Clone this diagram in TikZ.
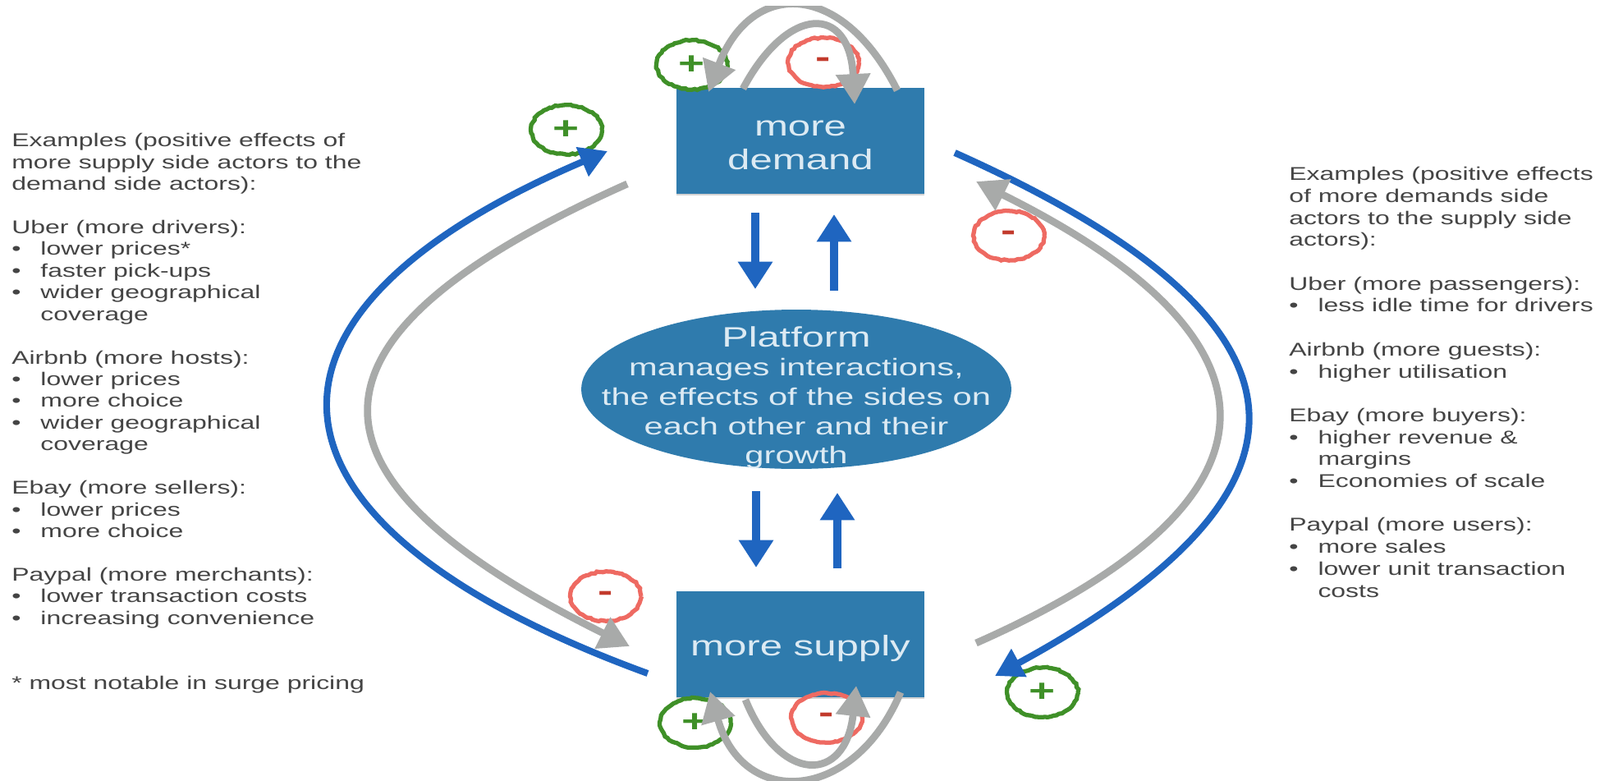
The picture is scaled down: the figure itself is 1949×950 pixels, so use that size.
\documentclass[tikz,border=0pt]{standalone}
\usepackage{fontspec}
\usepackage{tikz}
\usetikzlibrary{arrows.meta,shapes.geometric,decorations.pathmorphing,shadows}
\setmainfont[FakeStretch=1.42]{Liberation Sans}

\definecolor{boxblue}{HTML}{2F7BAD}
\definecolor{arrowblue}{HTML}{1F65C0}
\definecolor{loopgray}{HTML}{A8AAA9}
\definecolor{plusgreen}{HTML}{3F9028}
\definecolor{minusred}{HTML}{EE6A62}
\definecolor{minusdark}{HTML}{C23A2C}
\definecolor{notegray}{HTML}{444444}
\definecolor{boxtext}{HTML}{DCEAF3}

\newcommand{\bul}[1]{\makebox[20pt][l]{\textbullet}#1}
\newcommand{\cont}[1]{\hspace*{20pt}#1}
\newcommand{\lowered}[1]{\raisebox{-3pt}[\height][\depth]{#1}}

\tikzset{
  sidebox/.style={rectangle, fill=boxblue, text=boxtext, minimum width=6.04cm, minimum height=2.58cm,
    inner sep=0pt, align=center, font=\fontsize{19.7}{23}\selectfont,
    drop shadow={shadow xshift=0pt, shadow yshift=-1.2pt, opacity=0.35}},
  notes/.style={anchor=north west, inner sep=0pt, align=left, text=notegray,
    font=\fontsize{12.8}{15.06}\selectfont},
  effect/.style={ellipse, draw, line width=3pt, minimum width=1.72cm, minimum height=1.2cm, inner sep=0pt, fill=none,
    decorate, decoration={random steps, segment length=2pt, amplitude=0.5pt},
    font=\fontsize{22}{22}\selectfont\bfseries},
  pluseffect/.style={effect, draw=plusgreen, text=plusgreen},
  minuseffect/.style={effect, draw=minusred, text=minusdark},
  bluearrow/.style={draw=arrowblue, line width=5.5pt, -{Triangle[length=19pt, width=23pt]}},
  longblue/.style={draw=arrowblue, line width=4.6pt, -{Triangle[length=19pt, width=21pt]}},
  grayarrow/.style={draw=loopgray, line width=5pt, -{Triangle[length=21pt, width=23pt]}}
}

\begin{document}
\begin{tikzpicture}[x=0.02cm, y=-0.02cm]
    \useasboundingbox (0,0) rectangle (1949,950);
    \clip (0,7) rectangle (1949,950);

    \node[sidebox] (demand) at (975,171.5) {\lowered{more}\\\lowered{demand}};
    \node[sidebox] (supply) at (975,784.5) {\lowered{more supply}};
    \node[ellipse, fill=boxblue, minimum width=10.48cm, minimum height=3.88cm, inner sep=0pt] (platform) at (970,474) {};
    \node[text=boxtext, inner sep=0pt, align=center, font=\fontsize{16.7}{20.3}\selectfont] (platformtext) at (970,484)
      {{\fontsize{19.5}{20}\selectfont Platform}\\manages interactions,\\the effects of the sides on\\each other and their\\growth};

    \node[notes] (leftnotes) at (14,162) {Examples (positive effects of\\more supply side actors to the\\demand side actors):\\[15pt]
      Uber (more drivers):\\\bul{lower prices*}\\\bul{faster pick-ups}\\\bul{wider geographical}\\\cont{coverage}\\[15pt]
      Airbnb (more hosts):\\\bul{lower prices}\\\bul{more choice}\\\bul{wider geographical}\\\cont{coverage}\\[15pt]
      Ebay (more sellers):\\\bul{lower prices}\\\bul{more choice}\\[15pt]
      Paypal (more merchants):\\\bul{lower transaction costs}\\\bul{increasing convenience}\\[30pt]
      * most notable in surge pricing};
    \node[notes, font=\fontsize{12.8}{15.2}\selectfont] (rightnotes) at (1570,203) {Examples (positive effects\\of more demands side\\actors to the supply side\\actors):\\[15.2pt]
      Uber (more passengers):\\\bul{less idle time for drivers}\\[15.2pt]
      Airbnb (more guests):\\\bul{higher utilisation}\\[15.2pt]
      Ebay (more buyers):\\\bul{higher revenue \&}\\\cont{margins}\\\bul{Economies of scale}\\[15.2pt]
      Paypal (more users):\\\bul{more sales}\\\bul{lower unit transaction}\\\cont{costs}};

    \node[pluseffect] (plustop) at (843,79) {+};
    \node[minuseffect] (minustop) at (1003,76) {-};
    \node[pluseffect] (plusbottom) at (847,880) {+};
    \node[minuseffect] (minusbottom) at (1007,874) {-};
    \node[pluseffect] (plusleft) at (690,158) {+};
    \node[minuseffect] (minusright) at (1229,287) {-};
    \node[minuseffect] (minusleft) at (738,726) {-};
    \node[pluseffect] (plusright) at (1270,843) {+};

    \coordinate (d1) at (920,259);
    \coordinate (d2) at (920,352);
    \coordinate (u1) at (1016,354);
    \coordinate (u2) at (1016,261);
    \coordinate (d3) at (921,598);
    \coordinate (d4) at (921,691);
    \coordinate (u3) at (1020,692);
    \coordinate (u4) at (1020,600);

    \coordinate (bl1) at (789,820);
    \coordinate (bl2) at (740,184);
    \coordinate (br1) at (1163,186);
    \coordinate (br2) at (1212,823);
    \coordinate (gl1) at (764,224);
    \coordinate (gl2) at (767,787);
    \coordinate (gr1) at (1189,783);
    \coordinate (gr2) at (1189,221);

    \coordinate (to1) at (1093,110);
    \coordinate (to2) at (863,112);
    \coordinate (ti1) at (905,108);
    \coordinate (ti2) at (1041,127);
    \coordinate (so1) at (1097,843);
    \coordinate (so2) at (865,842);
    \coordinate (si1) at (908,852);
    \coordinate (si2) at (1043,835);

    \draw[bluearrow] (d1) -- (d2);
    \draw[bluearrow] (u1) -- (u2);
    \draw[bluearrow] (d3) -- (d4);
    \draw[bluearrow] (u3) -- (u4);

    \draw[longblue] (bl1) .. controls (296,640) and (268,385) .. (bl2);
    \draw[longblue] (br1) .. controls (1626,393) and (1629,596) .. (br2);
    \draw[grayarrow] (gl1) .. controls (347,410) and (347,579) .. (gl2);
    \draw[grayarrow] (gr1) .. controls (1580,610) and (1580,415) .. (gr2);

    \draw[grayarrow] (to1) .. controls (1025,-25) and (915,-25) .. (to2);
    \draw[grayarrow] (ti1) .. controls (960,5) and (1035,5) .. (ti2);
    \draw[grayarrow] (so1) .. controls (1040,978) and (905,985) .. (so2);
    \draw[grayarrow] (si1) .. controls (950,955) and (1030,955) .. (si2);
  \end{tikzpicture}
\end{document}
